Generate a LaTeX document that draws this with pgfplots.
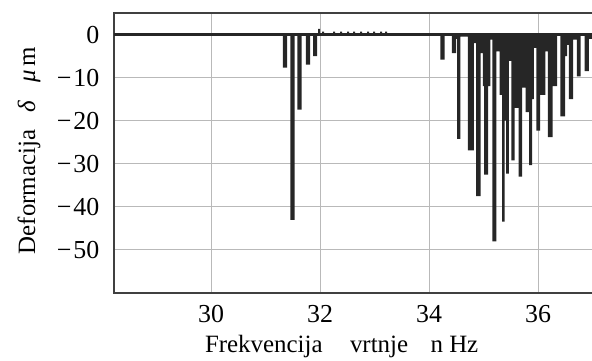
\documentclass[border=0pt]{standalone}
\usepackage{fontspec}
\setmainfont{Liberation Serif}
\usepackage{pgfplots}
\pgfplotsset{compat=1.18}

\begin{document}
\begin{tikzpicture}
\fontsize{12.5}{14}\selectfont
\begin{axis}[
    scale only axis,
    width=240.6bp, height=140bp,
    xmin=28.22, xmax=37.05,
    ymin=-60, ymax=5,
    xtick={30,32,34,36},
    ytick={-50,-40,-30,-20,-10,0},
    yticklabels={−\kern1pt50,−\kern1pt40,−\kern1pt30,−\kern1pt20,−\kern1pt10,0},
    /pgf/number format/assume math mode=true,
    major tick length=0pt,
    grid=major,
    grid style={gray!55, line width=0.5bp},
    axis line style={black!75, line width=0.6bp},
    ticklabel style={font=\fontsize{13}{15}\selectfont},
    yticklabel style={xshift=-3bp},
    xticklabel style={yshift=-2bp},
    xlabel={Frekvencija\hspace{1.1em}vrtnje\hspace{0.9em}n Hz},
    ylabel={Deformacija\hspace{0.7em}\textit{δ}\hspace{0.7em}\textit{μ}\,m},
    every axis x label/.style={at={(axis description cs:0.473,-0.2107)}, anchor=base},
    every axis y label/.style={at={(axis description cs:-0.1766,0.509)}, rotate=90, anchor=center},
]
% deformation spikes, step outline
\addplot[const plot mark left, fill=black!85, draw=none] coordinates {
    (28.22,0)
    (31.320,-7.7) (31.395,0) (31.458,-43) (31.533,0) (31.586,-17.4) (31.661,0)
    (31.742,-7) (31.817,0) (31.871,-5) (31.946,0) (31.963,1.3) (32.000,0)
    (32.037,0.7) (32.073,0) (32.239,0.7) (32.275,0) (32.367,0.7) (32.404,0)
    (32.495,0.7) (32.532,0) (32.606,0.7) (32.642,0) (32.734,0.7) (32.771,0)
    (32.862,0.7) (32.899,0) (32.972,0.7) (33.009,0) (33.101,0.7) (33.138,0)
    (33.193,0.7) (33.229,0)
    (34.210,-5.8) (34.285,0) (34.421,-4.3) (34.495,-1) (34.515,-24.2) (34.577,-0.5)
    (34.711,-26.9) (34.823,-2) (34.865,-37.5) (34.946,-4.3) (34.986,-12) (35.010,-32.5)
    (35.083,-12) (35.127,-1.2) (35.161,-48) (35.237,-3.9) (35.293,-14) (35.339,-43.4)
    (35.385,-20) (35.413,-32.3) (35.463,-6.1) (35.509,-29.2) (35.569,-17) (35.642,-33)
    (35.709,-12.3) (35.772,-18) (35.835,-30.3) (35.890,-15) (35.922,-3.1) (35.968,-22.3)
    (36.037,-14) (36.136,-3.9) (36.181,-23.8) (36.266,-12) (36.351,-0.3) (36.409,-19)
    (36.495,-5) (36.535,-2.4) (36.566,-15) (36.645,-1.2) (36.713,-9.7) (36.779,-0.3)
    (36.854,-8.5) (36.931,-1) (37.05,-1)
} \closedcycle;
\addplot[black!85, line width=1.5bp] coordinates {(28.22,0) (37.05,0)};
\coordinate (bl) at (rel axis cs:0,0);
\coordinate (tr) at (axis cs:36.99,5);
\end{axis}
\pgfresetboundingbox
\path ([xshift=-57bp,yshift=-33.5bp]bl) rectangle ([yshift=6.5bp]tr);
\end{tikzpicture}
\end{document}
